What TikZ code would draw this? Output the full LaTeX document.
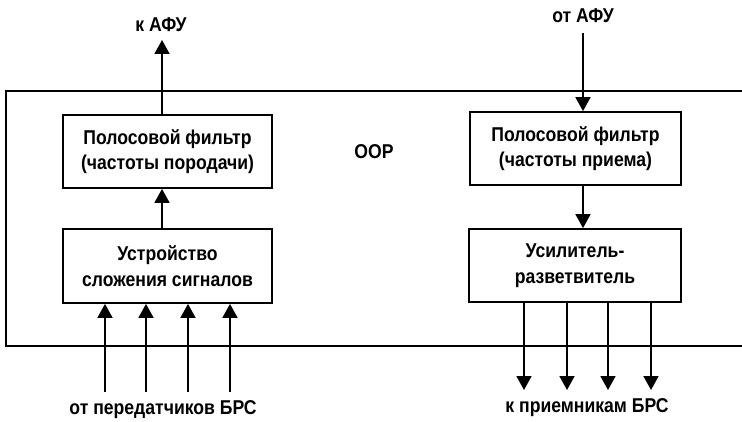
\documentclass[tikz,border=0pt]{standalone}
\usepackage{fontspec}
\setmainfont{Liberation Sans}[FakeStretch=0.88]
\usetikzlibrary{arrows.meta,calc}

\begin{document}
\begin{tikzpicture}[
  x=1pt, y=-1pt,
  >={Triangle[length=14pt,width=15pt]},
  lbl/.style={font=\fontsize{20}{25.5}\selectfont\bfseries,align=center,inner sep=0pt},
  blockbox/.style={draw,line width=1.8pt,minimum width=209pt,minimum height=73pt,
    font=\fontsize{20}{25.5}\selectfont\bfseries,align=center,inner sep=0pt},
  sigarrow/.style={->,line width=1.8pt},
  framestyle/.style={line width=1.1pt},
]
\useasboundingbox (0,0) rectangle (742,422);

% ===================================================================
% Frame of the unit (open on the right)
% ===================================================================
\draw[framestyle] (742,91) -- (6,91) -- (6,346) -- (742,346);
\node[lbl] (oor) at (374,152) {ООР};

% ===================================================================
% Transmit path
% ===================================================================
\node[blockbox] (txbpf) at (167.5,151.5) {Полосовой фильтр\\(частоты породачи)};
\node[blockbox,minimum height=74pt] (txsum) at (167.5,266) {Устройство\\сложения сигналов};

\node[lbl] (toafu) at (161,25) {к АФУ};
\coordinate (afuout) at (162,40);
\draw[sigarrow] (txbpf.north -| afuout) -- (afuout);
\draw[sigarrow] (txsum.north -| afuout) -- (txbpf.south -| afuout);

\foreach \x in {105,146,188,230} {
  \draw[sigarrow] (\x,392) -- (\x,392 |- txsum.south);
}
\node[lbl] (fromtx) at (163,410) {от передатчиков БРС};

% ===================================================================
% Receive path
% ===================================================================
\node[blockbox,minimum width=211pt] (rxbpf) at (575.5,148.5) {Полосовой фильтр\\(частоты приема)};
\node[blockbox,minimum width=212pt] (rxamp) at (575,265.5) {Усилитель-\\разветвитель};

\node[lbl] (fromafu) at (583,16) {от АФУ};
\coordinate (afuin) at (583,33);
\draw[sigarrow] (afuin) -- (afuin |- rxbpf.north);
\draw[sigarrow] (rxbpf.south -| afuin) -- (rxamp.north -| afuin);

\foreach \x in {524,567,608,651} {
  \draw[sigarrow] (\x,390 |- rxamp.south) -- (\x,390);
}
\node[lbl] (torx) at (587,408) {к приемникам БРС};

\end{tikzpicture}
\end{document}
